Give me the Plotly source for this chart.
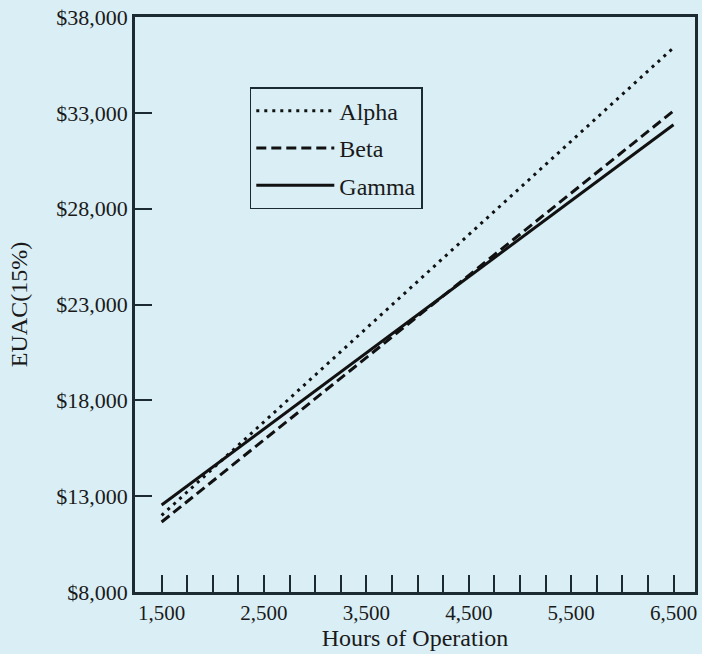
import plotly.graph_objects as go

# Data
hours = [1500, 6500]
alpha = [12000, 36400]
beta = [11650, 33100]
gamma = [12540, 32380]

x_tickvals = [1500 + 250 * i for i in range(21)]
x_ticktext = [f"{v:,}" if (v - 1500) % 1000 == 0 else "" for v in x_tickvals]
y_tickvals = [8000, 13000, 18000, 23000, 28000, 33000, 38000]
y_ticktext = ["$8,000", "$13,000", "$18,000", "$23,000", "$28,000", "$33,000", "$38,000"]

BG = "#d9eef5"
AX = "#1c2a31"
FONT = "Liberation Serif"

fig = go.Figure()
fig.add_trace(go.Scatter(x=hours, y=alpha, mode="lines", name="Alpha", legendgroup="a",
                         line=dict(color="#111111", width=3, dash="3px,5px")))
fig.add_trace(go.Scatter(x=hours, y=beta, mode="lines", name="Beta", legendgroup="b",
                         line=dict(color="#111111", width=3, dash="10px,5px")))
fig.add_trace(go.Scatter(x=hours, y=gamma, mode="lines", name="Gamma", legendgroup="c",
                         line=dict(color="#111111", width=3)))

fig.update_layout(
    width=702, height=654,
    margin=dict(l=135, r=4, t=17, b=62),
    paper_bgcolor=BG, plot_bgcolor=BG,
    font=dict(family=FONT, size=20, color="#1a1a1a"),
    legend=dict(x=0.205, y=0.878, xanchor="left", yanchor="top",
                bgcolor="rgba(0,0,0,0)", bordercolor=AX, borderwidth=1.5,
                font=dict(family=FONT, size=24), tracegroupgap=3, itemwidth=78),
    showlegend=True,
)
fig.update_xaxes(
    range=[1240, 6710], tickvals=x_tickvals, ticktext=x_ticktext,
    ticks="inside", ticklen=17, tickwidth=1.5, tickcolor=AX,
    tickfont=dict(size=21),
    showline=True, linecolor=AX, linewidth=2.5, mirror=True,
    showgrid=False, zeroline=False,
    title=dict(text="Hours of Operation", standoff=0),
)
fig.update_yaxes(
    range=[8000, 38000], tickvals=y_tickvals, ticktext=y_ticktext,
    ticks="inside", ticklen=17, tickwidth=1.5, tickcolor=AX,
    tickfont=dict(size=22),
    showline=True, linecolor=AX, linewidth=2.5, mirror=True,
    showgrid=False, zeroline=False,
    title=dict(text="EUAC(15%)", standoff=22),
)

fig.write_html(
    "out.html",
    config={"displayModeBar": False},
    post_script="document.body.style.margin='0';document.body.style.background='%s';" % BG,
)
